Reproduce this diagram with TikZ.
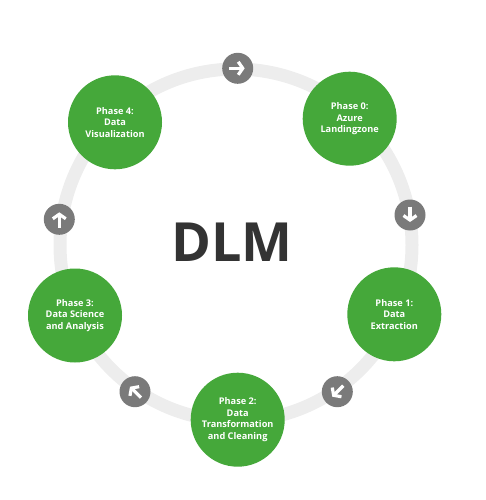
\documentclass[tikz,border=0pt]{standalone}
\usepackage{fontspec}
\setmainfont{Open Sans}
\usetikzlibrary{arrows.meta}
\definecolor{phasegreen}{HTML}{45A83A}
\definecolor{ringgray}{HTML}{EDEDED}
\definecolor{turngray}{HTML}{7A7A7A}
\definecolor{dlmgray}{HTML}{333333}
\tikzset{
  phase/.style={circle, fill=phasegreen, minimum size=94pt, inner sep=0pt, text=white,
    align=center, font=\bfseries\fontsize{9.2}{11.6}\selectfont},
  turn/.style={circle, fill=turngray, minimum size=31pt, inner sep=0pt},
  turnarrow/.style={white, line width=3.2pt, -{Straight Barb[length=4.5pt,width=13pt]}},
  ring/.style={ringgray, line width=13pt}
}
\begin{document}
\begin{tikzpicture}[x=1pt, y=-1pt]
  \useasboundingbox (0,0) rectangle (485,500);
  \coordinate (ctr) at (236,245);
  \draw [ring] (ctr) circle (176pt);
  % arrows on the ring
  \node [turn] (A0) at (237.7,68.3) {};
  \node [turn] (A1) at (410,215) {};
  \node [turn] (A2) at (337.3,391.7) {};
  \node [turn] (A3) at (135,391.7) {};
  \node [turn] (A4) at (59.3,219.3) {};
  \draw [turnarrow] ([xshift=-8.5pt]A0.center) -- ([xshift=7pt]A0.center);
  \draw [turnarrow] ([yshift=8.5pt]A1.center) -- ([yshift=-7pt]A1.center);
  \draw [turnarrow] ([shift={(6pt,6pt)}]A2.center) -- ([shift={(-5pt,-5pt)}]A2.center);
  \draw [turnarrow] ([shift={(6pt,-6pt)}]A3.center) -- ([shift={(-5pt,5pt)}]A3.center);
  \draw [turnarrow] ([yshift=-8.5pt]A4.center) -- ([yshift=7pt]A4.center);
  % phases
  \node [phase] (P0) at (349.7,118.7) {Phase 0:\\Azure\\Landingzone};
  \node [phase] (P1) at (394.3,314.3) {Phase 1:\\Data\\Extraction};
  \node [phase] (P2) at (237.7,419.7) {Phase 2:\\Data\\Transformation\\and Cleaning};
  \node [phase] (P3) at (75,315.5) {Phase 3:\\Data Science\\and Analysis};
  \node [phase] (P4) at (115,122.3) {Phase 4:\\Data\\Visualization};
  \node [text=dlmgray, font=\bfseries\fontsize{54}{54}\selectfont] (DLM) at (232,242) {DLM};
\end{tikzpicture}
\end{document}
